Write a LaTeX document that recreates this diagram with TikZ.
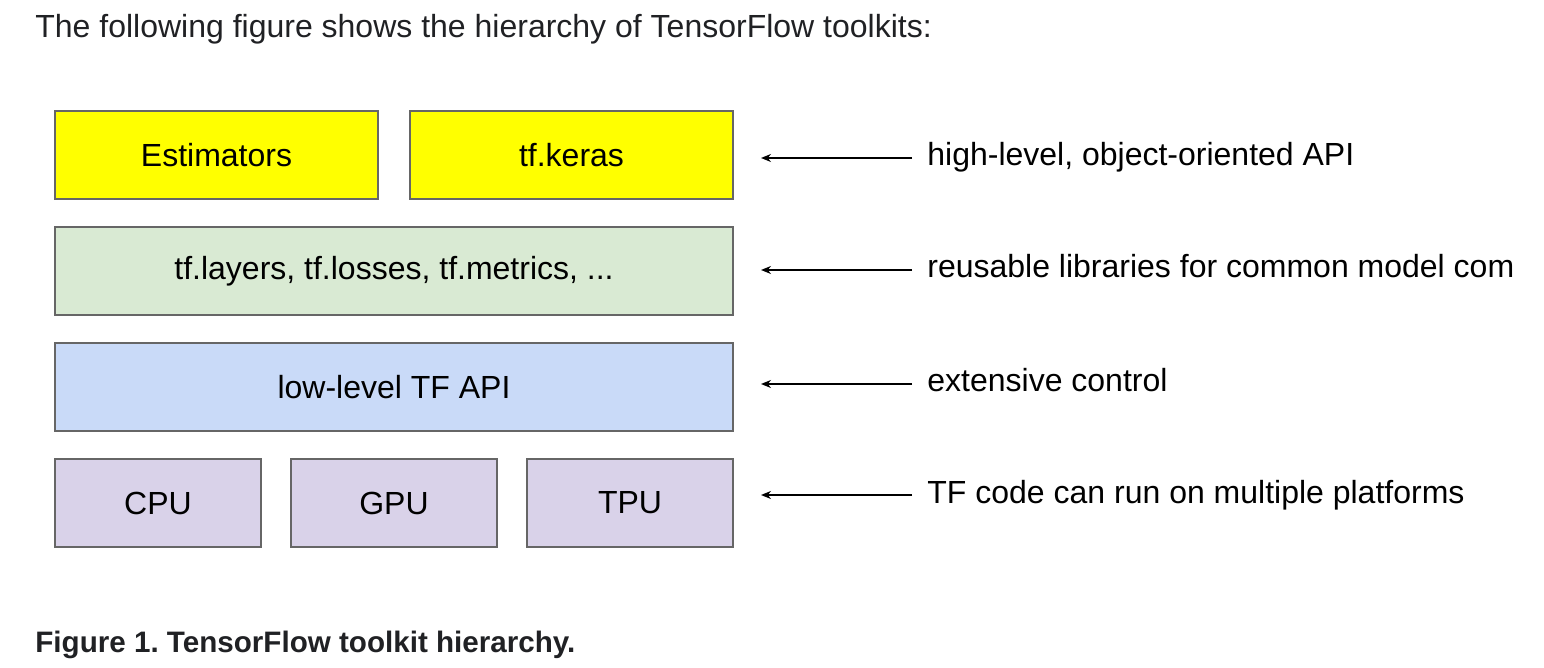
\documentclass[tikz,border=0pt]{standalone}
\usepackage{fontspec}
\setmainfont{Liberation Sans}
\usetikzlibrary{positioning,arrows.meta}
\definecolor{boxline}{HTML}{666666}
\definecolor{highyellow}{HTML}{FFFF00}
\definecolor{libgreen}{HTML}{D9EAD3}
\definecolor{apiblue}{HTML}{C9DAF8}
\definecolor{hwpurple}{HTML}{D9D2E9}
\definecolor{inktext}{HTML}{202124}
\frenchspacing
\begin{document}
\begin{tikzpicture}
        [x=0.5pt,y=-0.5pt,
        layer/.style={draw=boxline,line width=1pt,minimum height=44pt,inner sep=0pt,font=\fontsize{16pt}{19pt}\selectfont},
        note/.style={anchor=west,inner xsep=7.5pt,inner ysep=0pt,text height=12pt,text depth=4pt,font=\fontsize{16pt}{19pt}\selectfont},
        pointer/.style={-{Stealth[length=5pt,width=4pt]},line width=0.75pt}]
        \useasboundingbox (0,0) rectangle (1544,668);
        \node[anchor=base west,inner sep=0pt,text=inktext,font=\fontsize{16pt}{19pt}\selectfont] (intro) at (35,38) {The following figure shows the hierarchy of TensorFlow toolkits:};
        % toolkit layers
        \node[layer,fill=highyellow,minimum width=161.5pt] (est) at (216.5,155) {Estimators};
        \node[layer,fill=highyellow,minimum width=161.5pt] (keras) at (571.5,155) {tf.keras};
        \node[layer,fill=libgreen,minimum width=339pt] (libs) at (394,271) {tf.layers, tf.losses, tf.metrics, ...};
        \node[layer,fill=apiblue,minimum width=339pt] (api) at (394,387) {low-level TF API};
        \node[layer,fill=hwpurple,minimum width=103pt] (cpu) at (158,503) {CPU};
        \node[layer,fill=hwpurple,minimum width=103pt] (gpu) at (394,503) {GPU};
        \node[layer,fill=hwpurple,minimum width=103pt] (tpu) at (630,503) {TPU};
        % notes on the right
        \node[note] (high) at (912,158) {high-level, object-oriented API};
        \node[note] (reuse) at (912,270) {reusable libraries for common model com};
        \node[note] (ctrl) at (912,384) {extensive control};
        \node[note] (plat) at (912,495) {TF code can run on multiple platforms};
        \coordinate (hightip) at (761,158);
        \coordinate (reusetip) at (761,270);
        \coordinate (ctrltip) at (761,384);
        \coordinate (plattip) at (761,495);
        \draw[pointer] (high.west) -- (hightip);
        \draw[pointer] (reuse.west) -- (reusetip);
        \draw[pointer] (ctrl.west) -- (ctrltip);
        \draw[pointer] (plat.west) -- (plattip);
        \node[anchor=base west,inner sep=0pt,text=inktext,font=\bfseries\fontsize{14.8pt}{18pt}\selectfont] (caption) at (35,652) {Figure 1. TensorFlow toolkit hierarchy.};
    \end{tikzpicture}
\end{document}
